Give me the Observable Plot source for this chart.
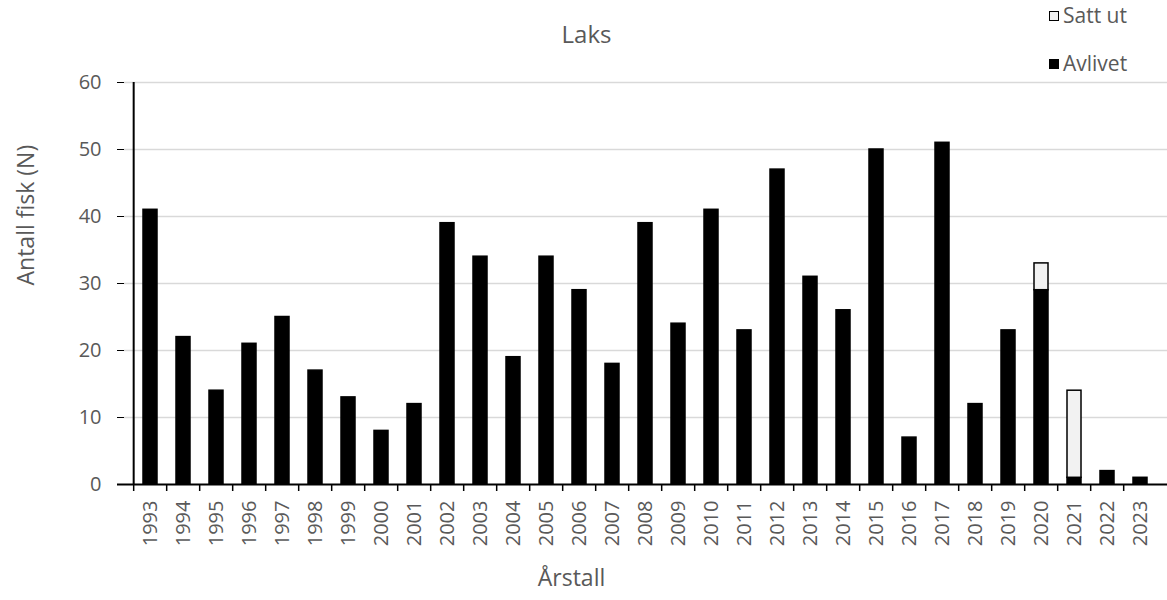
<!DOCTYPE html>
<html>
<head>
<meta charset="utf-8">
<script src="https://cdn.jsdelivr.net/npm/d3@7"></script>
<script src="https://cdn.jsdelivr.net/npm/@observablehq/plot@0.6"></script>
<style>
  body { margin: 0; background: #fff; }
  #wrap { position: relative; width: 1167px; height: 600px; font-family: "Open Sans", sans-serif; color: #595959; }
  #wrap svg { position: absolute; left: 0; top: 0; }
  .legend { position: absolute; left: 1049px; top: 0px; font-size: 21px; line-height: 1; }
  .legend .item { position: absolute; left: 0; white-space: nowrap; display: flex; align-items: center; }
  .legend .sw { display: inline-block; width: 8px; height: 8px; border: 1.5px solid #000; margin-right: 4px; }
</style>
</head>
<body>
<div id="wrap">
  <div class="legend">
    <div class="item" style="top:5px"><span class="sw" style="background:#f2f2f2"></span><span>Satt ut</span></div>
    <div class="item" style="top:53px"><span class="sw" style="background:#000"></span><span>Avlivet</span></div>
  </div>
</div>
<script>
const years = ["1993","1994","1995","1996","1997","1998","1999","2000","2001","2002","2003","2004","2005","2006","2007","2008","2009","2010","2011","2012","2013","2014","2015","2016","2017","2018","2019","2020","2021","2022","2023"];
const avlivet = [41,22,14,21,25,17,13,8,12,39,34,19,34,29,18,39,24,41,23,47,31,26,50,7,51,12,23,29,1,2,1];
const sattUt  = [0,0,0,0,0,0,0,0,0,0,0,0,0,0,0,0,0,0,0,0,0,0,0,0,0,0,0,4,13,0,0];
const seriesNames = ["Avlivet", "Satt ut"];
const yTicks = [0,10,20,30,40,50,60];

const rows = [];
years.forEach((yr, i) => rows.push({year: yr, series: "Avlivet", value: avlivet[i]}));
years.forEach((yr, i) => { if (sattUt[i] > 0) rows.push({year: yr, series: "Satt ut", value: sattUt[i]}); });

const W = 1167, H = 600, ML = 124, MR = 0, MT = 82, MB = 116;
const step = (W - ML - MR) / years.length;
const cx = (ML + W - MR) / 2;

const chart = Plot.plot({
  width: W,
  height: H,
  marginLeft: ML,
  marginRight: MR,
  marginTop: MT,
  marginBottom: MB,
  style: {fontFamily: "'Open Sans', sans-serif", fontSize: "20px", color: "#595959", background: "transparent"},
  x: {type: "band", domain: years, paddingInner: 0.575, paddingOuter: 0.2875, align: 0.5},
  y: {domain: [0, 60]},
  color: {domain: seriesNames, range: ["#000000", "#f2f2f2"]},
  marks: [
    Plot.gridY(yTicks.filter(d => d > 0), {stroke: "#d9d9d9", strokeOpacity: 1, strokeWidth: 1.5}),
    Plot.barY(rows, {x: "year", y: "value", fill: "series", stroke: "#000", strokeWidth: 1.5}),
    Plot.ruleY([0], {stroke: "#000", strokeWidth: 2, insetLeft: -7}),
    Plot.ruleX([years[0]], {x: d => d, y1: 0, y2: 60, dx: -step / 2, stroke: "#000", strokeWidth: 2}),
    Plot.ruleX(years, {x: d => d, y1: 0, y2: 0, insetBottom: -7, dx: -step / 2, stroke: "#000", strokeWidth: 1.5}),
    Plot.axisY(yTicks, {tickSize: 7, tickPadding: 16, stroke: "#000", fill: "#595959", fontSize: 20, label: null}),
    Plot.axisX({tickSize: 0, tickPadding: 16, tickRotate: -90, fill: "#595959", fontSize: 20, label: null}),
    Plot.text(["Laks"], {frameAnchor: "top", dx: 586 - cx, dy: -57, fontSize: 24, fill: "#595959"}),
    Plot.text(["Årstall"], {frameAnchor: "bottom", dx: 571 - cx, dy: 101, fontSize: 23, fill: "#595959"}),
    Plot.text(["Antall fisk (N)"], {frameAnchor: "left", rotate: -90, dx: 26 - ML, dy: 2, fontSize: 23, fill: "#595959"})
  ]
});
document.getElementById("wrap").prepend(chart);
</script>
</body>
</html>
